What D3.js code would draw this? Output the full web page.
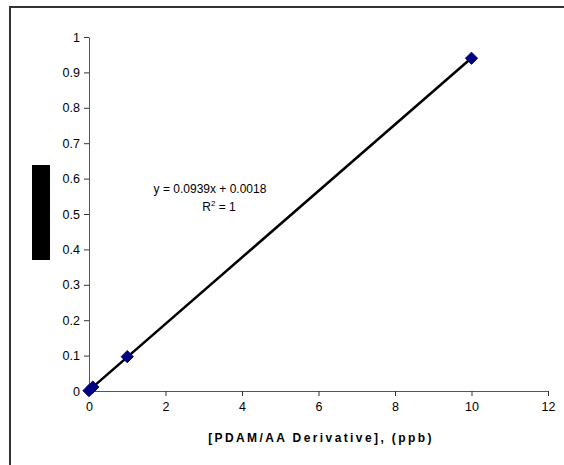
<!DOCTYPE html>
<html>
<head>
<meta charset="utf-8">
<script src="https://cdn.jsdelivr.net/npm/d3@7"></script>
<style>
  body { margin: 0; background: #fff; }
  svg { display: block; font-family: Arial, "Liberation Sans", sans-serif; }
</style>
</head>
<body>
<svg id="chart" width="564" height="465"></svg>
<script>
// calibration points
var concs = [0, 0.1, 1, 10];
var signals = [0.001, 0.011, 0.097, 0.94];
var slope = 0.0939;
var intercept = 0.0018;
var xTicks = [0, 2, 4, 6, 8, 10, 12];
var yTicks = [0, 0.1, 0.2, 0.3, 0.4, 0.5, 0.6, 0.7, 0.8, 0.9, 1];

var svg = d3.select('svg#chart');

var x = d3.scaleLinear().domain([0, 12]).range([89, 548]);
var y = d3.scaleLinear().domain([0, 1]).range([391, 37]);

// outer frame (only top and left edges are visible)
svg.append('path')
    .attr('d', 'M10,465 V7 H564')
    .attr('fill', 'none')
    .attr('stroke', '#333')
    .attr('stroke-width', 2);

var xAxis = svg.append('g')
    .attr('transform', 'translate(0,' + y(0) + ')')
    .call(d3.axisBottom(x).tickValues(xTicks).tickSize(5).tickPadding(6).tickSizeOuter(0));

var yAxis = svg.append('g')
    .attr('transform', 'translate(' + x(0) + ',0)')
    .call(d3.axisLeft(y).tickValues(yTicks).tickSize(5).tickPadding(4).tickSizeOuter(0)
        .tickFormat(function (d) { return d === 0 || d === 1 ? d : d3.format('.1f')(d); }));

[xAxis, yAxis].forEach(function (g) {
    g.select('.domain').attr('stroke', '#555');
    g.selectAll('.tick line').attr('stroke', '#333');
    g.selectAll('.tick text').attr('fill', '#000').attr('font-size', 12.5).attr('font-family', 'Arial, "Liberation Sans", sans-serif');
});

// redacted y axis title
svg.append('rect')
    .attr('x', 32).attr('y', 165)
    .attr('width', 18).attr('height', 95)
    .attr('fill', '#000');

svg.append('text')
    .attr('x', 321).attr('y', 442)
    .attr('text-anchor', 'middle')
    .attr('font-size', 12)
    .attr('font-weight', 'bold')
    .attr('letter-spacing', 2.4)
    .text('[PDAM/AA Derivative], (ppb)');

// linear trendline
var line = d3.line()
    .x(function (d) { return x(d); })
    .y(function (d) { return y(slope * d + intercept); });

svg.append('path')
    .datum([0, 10])
    .attr('d', line)
    .attr('fill', 'none')
    .attr('stroke', '#000')
    .attr('stroke-width', 2.5);

svg.append('g')
    .selectAll('path')
    .data(concs)
    .join('path')
    .attr('transform', function (d, i) { return 'translate(' + x(d) + ',' + y(signals[i]) + ')'; })
    .attr('d', d3.symbol().type(d3.symbolDiamond2).size(95))
    .attr('fill', '#000080')
    .attr('stroke', '#000080')
    .attr('stroke-width', 1);

var eq = svg.append('text')
    .attr('font-size', 12)
    .attr('text-anchor', 'middle');
eq.append('tspan')
    .attr('x', 210).attr('y', 193)
    .text('y = 0.0939x + 0.0018');
var r2 = eq.append('tspan')
    .attr('x', 219).attr('y', 211);
r2.append('tspan').text('R');
r2.append('tspan').attr('font-size', 8).attr('dy', -5).text('2');
r2.append('tspan').attr('dy', 5).text(' = 1');
</script>
</body>
</html>
